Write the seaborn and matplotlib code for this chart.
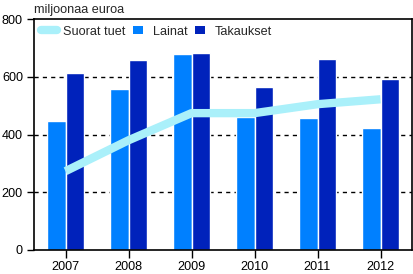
import matplotlib
matplotlib.use("Agg")
import matplotlib.pyplot as plt
from matplotlib.lines import Line2D
import seaborn as sns
import pandas as pd

years = ["2007", "2008", "2009", "2010", "2011", "2012"]
lainat = [446, 557, 678, 462, 457, 422]
takaukset = [612, 657, 682, 564, 661, 592]
suorat_tuet = [273, 380, 474, 474, 505, 522]

c_lainat = "#0080ff"
c_takaukset = "#0022bb"
c_suorat = "#aaf0fa"

sns.set_theme(style="white")
plt.rcParams['font.family'] = ['Liberation Sans', 'DejaVu Sans']
FS = 9.1

df = pd.DataFrame({
    "year": years * 2,
    "value": lainat + takaukset,
    "series": ["Lainat"] * 6 + ["Takaukset"] * 6,
})

fig = plt.figure(figsize=(4.13, 2.74), dpi=100)
ax = fig.add_axes([34/413, 1 - 250/274, (412-34)/413, (250-19)/274])

sns.barplot(data=df, x="year", y="value", hue="series",
            palette={"Lainat": c_lainat, "Takaukset": c_takaukset},
            width=0.6, edgecolor="white", linewidth=1, saturation=1, ax=ax,
            legend=False)
for p in ax.patches:
    p.set_zorder(2)

line_df = pd.DataFrame({"year": years, "value": suorat_tuet})
sns.lineplot(data=line_df, x="year", y="value", color=c_suorat, linewidth=6,
             ax=ax, zorder=3, solid_capstyle="butt", legend=False)

ax.set_ylim(0, 800)
ax.set_xlim(-0.5, 5.5)
ax.set_yticks([0, 200, 400, 600, 800])
ax.set_xlabel("")
ax.set_ylabel("")
for y in [200, 400, 600]:
    ax.axhline(y, color="black", linestyle=(0, (3, 3)), linewidth=1, zorder=1)

for s in ax.spines.values():
    s.set_color("black")
    s.set_linewidth(1.2)
    s.set_zorder(4)
ax.tick_params(axis="both", which="both", direction="out", width=1,
               color="black", labelsize=FS, labelcolor="black", left=True, bottom=True)
ax.tick_params(axis="y", length=5, pad=3)
ax.tick_params(axis="x", length=6, pad=2)

rect = [(-1, -0.7), (1, -0.7), (1, 0.7), (-1, 0.7), (-1, -0.7)]
handles = [
    Line2D([], [], color=c_suorat, linewidth=6, solid_capstyle="round"),
    Line2D([], [], linestyle="none", marker=rect, markersize=7.3,
           markerfacecolor=c_lainat, markeredgewidth=0),
    Line2D([], [], linestyle="none", marker=rect, markersize=7.3,
           markerfacecolor=c_takaukset, markeredgewidth=0),
]
ax.legend(handles, ["Suorat tuet", "Lainat", "Takaukset"],
          loc="upper left", ncol=3, frameon=False, fontsize=FS,
          bbox_to_anchor=(-0.005, 1.01), borderaxespad=0.3,
          handlelength=1.25, handletextpad=0.5, columnspacing=0.4)

fig.text(34/413, 1 - 10/274, "miljoonaa euroa", fontsize=FS, va="center", ha="left")

fig.savefig("out.png", dpi=100)
